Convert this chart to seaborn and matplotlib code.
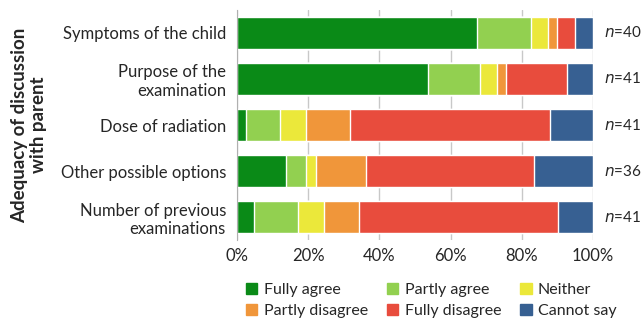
import matplotlib
matplotlib.use("Agg")
import matplotlib.pyplot as plt
import matplotlib.patches as mpatches
import seaborn as sns
import numpy as np
import pandas as pd

items = ["Symptoms of the child", "Purpose of the\nexamination", "Dose of radiation",
         "Other possible options", "Number of previous\nexaminations"]
n_total = [40, 41, 41, 36, 41]

responses = ["Fully agree", "Partly agree", "Neither", "Partly disagree", "Fully disagree", "Cannot say"]
fully_agree = [27, 22, 1, 5, 2]
partly_agree = [6, 6, 4, 2, 5]
neither = [2, 2, 3, 1, 3]
partly_disagree = [1, 1, 5, 5, 4]
fully_disagree = [2, 7, 23, 17, 23]
cannot_say = [2, 3, 5, 6, 4]

colors = ["#0a8a17", "#92d050", "#ebe83a", "#f0963a", "#e84c3d", "#376092"]


def main():
    counts = np.array([fully_agree, partly_agree, neither, partly_disagree, fully_disagree, cannot_say], dtype=float)
    pct = counts / np.array(n_total) * 100
    cum = np.cumsum(pct, axis=0)

    sns.set_style("white")
    plt.rcParams["font.family"] = ["Lato", "DejaVu Sans"]

    fig = plt.figure(figsize=(6.43, 3.19), dpi=100)
    ax = fig.add_axes([0.3686, 0.2476, 0.5536, 0.7211])

    # overlay bars from the right-most cumulative end down to the first segment
    for i in range(len(responses) - 1, -1, -1):
        df = pd.DataFrame({"item": items, "value": cum[i]})
        sns.barplot(data=df, x="value", y="item", color=colors[i], saturation=1,
                    width=0.7, orient="h", ax=ax, zorder=2)

    ax.set_xlim(0, 100)
    ax.set_xticks([0, 20, 40, 60, 80, 100])
    ax.set_xticklabels([f"{t}%" for t in range(0, 101, 20)], fontsize=12)
    ax.tick_params(axis="x", length=0, pad=6)
    ax.tick_params(axis="y", length=0, pad=8, labelsize=12)
    for lbl in ax.get_yticklabels():
        lbl.set_horizontalalignment("right")
        lbl.set_multialignment("right")
    ax.grid(axis="x", color="#c8c8c8", linewidth=1, zorder=0)
    ax.set_axisbelow(True)
    for s in ["top", "right", "bottom"]:
        ax.spines[s].set_visible(False)
    ax.spines["left"].set_color("#b0b0b0")
    ax.set_xlabel("")
    ax.set_ylabel("Adequacy of discussion\nwith parent", fontsize=13.5, fontweight="bold",
                  labelpad=10, linespacing=1.1)

    # n labels
    for j, n in enumerate(n_total):
        ax.text(103.2, j, f"$\\it{{n}}$={n}", va="center", ha="left", fontsize=11)

    handles = [mpatches.Patch(color=c, label=r) for c, r in zip(colors, responses)]
    order = [0, 3, 1, 4, 2, 5]
    ax.legend([handles[k] for k in order], [responses[k] for k in order],
              ncol=3, loc="upper left", bbox_to_anchor=(0.008, -0.158), frameon=False,
              fontsize=11.5, handlelength=0.7, handleheight=0.7, handletextpad=0.4,
              columnspacing=1.2, labelspacing=0.45, borderaxespad=0)

    plt.savefig("out.png", dpi=100)


main()
